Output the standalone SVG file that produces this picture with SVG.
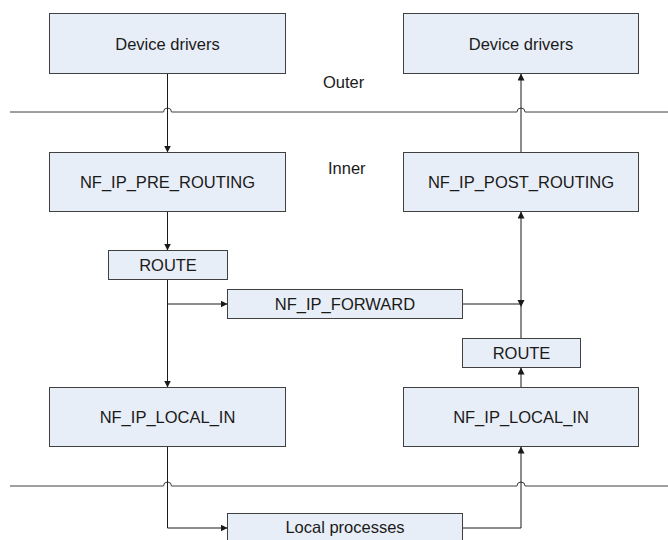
<svg xmlns="http://www.w3.org/2000/svg" width="668" height="540" viewBox="0 0 668 540">
<style>
.box{fill:#e8eef7;stroke:#404040;stroke-width:1}
.lbl{font-family:"Liberation Sans",Arial,sans-serif;font-size:16.5px;fill:#1a1a1a;text-anchor:middle}
.side{font-family:"Liberation Sans",Arial,sans-serif;font-size:16.5px;fill:#1a1a1a}
.con{fill:none;stroke:#1a1a1a;stroke-width:1}
.sep{fill:none;stroke:#404040;stroke-width:1}
</style>
<defs>
<marker id="arr" markerUnits="userSpaceOnUse" markerWidth="8" markerHeight="8" refX="7" refY="3.5" orient="auto">
<path d="M0,0 L7,3.5 L0,7 z" fill="#1a1a1a"/>
</marker>
</defs>
<rect width="668" height="540" fill="#ffffff"/>
<g id="separators">
<path class="sep" d="M10,112 H163.5 a4,4 0 0 1 8,0 H517 a4,4 0 0 1 8,0 H668"/>
<path class="sep" d="M10,486 H163.5 a4,4 0 0 1 8,0 H517 a4,4 0 0 1 8,0 H668"/>
</g>
<g id="zone-labels">
<text class="side" x="323" y="88">Outer</text>
<text class="side" x="328" y="173.5">Inner</text>
</g>
<g id="connectors">
<path class="con" d="M167.5,73.5 V152.5" marker-end="url(#arr)"/>
<path class="con" d="M167.5,211.5 V250.5" marker-end="url(#arr)"/>
<path class="con" d="M167.5,279.5 V387.5" marker-end="url(#arr)"/>
<path class="con" d="M167.5,304 H227.5" marker-end="url(#arr)"/>
<path class="con" d="M167.5,446.5 V528 H227.5" marker-end="url(#arr)"/>
<path class="con" d="M462.5,528 H521 V446.5" marker-end="url(#arr)"/>
<path class="con" d="M521,387.5 V367.5" marker-end="url(#arr)"/>
<path class="con" d="M521,338.5 V211.5" marker-end="url(#arr)"/>
<path class="con" d="M462.5,304 H521"/>
<path d="M517.5,300 L524.5,300 L521,307 z" fill="#1a1a1a"/>
<path class="con" d="M521,152.5 V73.5" marker-end="url(#arr)"/>
</g>
<g id="dev-in">
<rect class="box" x="49.5" y="13.5" width="236" height="60"/>
<text class="lbl" x="167.5" y="49.5">Device drivers</text>
</g>
<g id="dev-out">
<rect class="box" x="403.5" y="13.5" width="235" height="60"/>
<text class="lbl" x="521" y="49.5">Device drivers</text>
</g>
<g id="pre-routing">
<rect class="box" x="49.5" y="152.5" width="236" height="59"/>
<text class="lbl" x="167.5" y="188">NF_IP_PRE_ROUTING</text>
</g>
<g id="post-routing">
<rect class="box" x="403.5" y="152.5" width="235" height="59"/>
<text class="lbl" x="521" y="188">NF_IP_POST_ROUTING</text>
</g>
<g id="route-in">
<rect class="box" x="108.5" y="250.5" width="119" height="29"/>
<text class="lbl" x="168" y="271">ROUTE</text>
</g>
<g id="forward">
<rect class="box" x="227.5" y="289.5" width="235" height="29"/>
<text class="lbl" x="345" y="310">NF_IP_FORWARD</text>
</g>
<g id="route-out">
<rect class="box" x="462.5" y="338.5" width="118" height="29"/>
<text class="lbl" x="521.5" y="359">ROUTE</text>
</g>
<g id="local-in">
<rect class="box" x="49.5" y="387.5" width="236" height="59"/>
<text class="lbl" x="167.5" y="423">NF_IP_LOCAL_IN</text>
</g>
<g id="local-out">
<rect class="box" x="403.5" y="387.5" width="235" height="59"/>
<text class="lbl" x="521" y="423">NF_IP_LOCAL_IN</text>
</g>
<g id="local-processes">
<rect class="box" x="227.5" y="513.5" width="235" height="29"/>
<text class="lbl" x="345" y="533">Local processes</text>
</g>
</svg>
